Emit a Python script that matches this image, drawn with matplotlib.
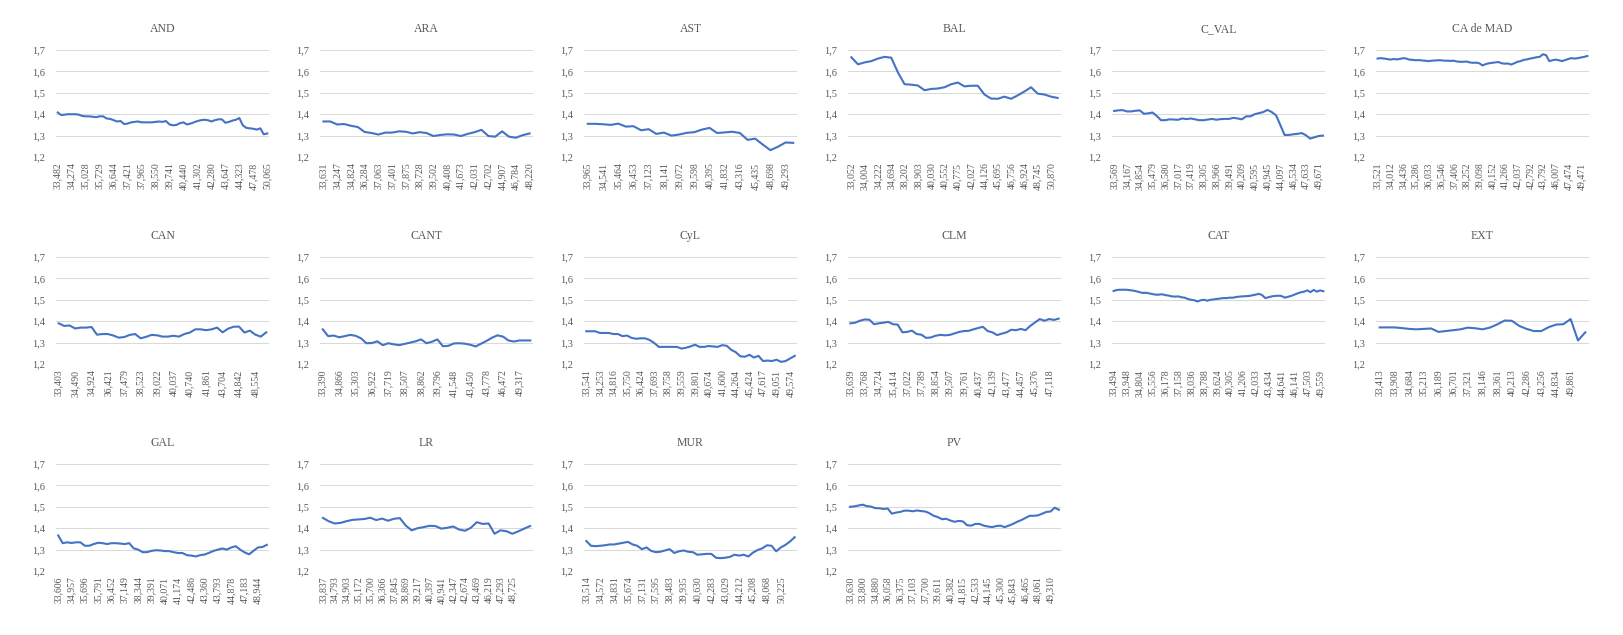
import matplotlib
matplotlib.use("Agg")
import matplotlib.pyplot as plt
from matplotlib.ticker import FuncFormatter

plt.rcParams['font.family'] = ['Liberation Serif', 'DejaVu Serif']

# ---- data: one series per region, x categories are the tick labels shown ----
and_labels = ["33,482", "34,274", "35,028", "35,729", "36,644", "37,421", "37,965", "38,550",
              "39,741", "40,440", "41,302", "42,280", "43,647", "44,323", "47,478", "50,065"]
and_vals = [1.408, 1.396, 1.398, 1.400, 1.400, 1.400, 1.398, 1.392, 1.390, 1.390, 1.388, 1.386,
            1.390, 1.390, 1.380, 1.378, 1.372, 1.366, 1.368, 1.354, 1.356, 1.362, 1.364, 1.366,
            1.362, 1.362, 1.362, 1.362, 1.364, 1.366, 1.364, 1.368, 1.352, 1.348, 1.350, 1.358,
            1.362, 1.352, 1.356, 1.362, 1.368, 1.372, 1.374, 1.372, 1.366, 1.372, 1.376, 1.376,
            1.360, 1.364, 1.370, 1.374, 1.382, 1.348, 1.336, 1.334, 1.332, 1.328, 1.334, 1.306,
            1.310]

ara_labels = ["33,631", "34,247", "34,824", "36,284", "37,063", "37,401", "37,875", "38,728",
              "39,502", "40,408", "41,673", "42,031", "42,702", "44,907", "46,784", "48,220"]
ara_vals = [1.366, 1.366, 1.352, 1.354, 1.346, 1.340, 1.317, 1.312, 1.305, 1.314, 1.314, 1.320,
            1.318, 1.310, 1.316, 1.312, 1.298, 1.303, 1.306, 1.305, 1.298, 1.308, 1.316, 1.327,
            1.298, 1.295, 1.320, 1.295, 1.290, 1.302, 1.310]

ast_labels = ["33,965", "34,541", "35,464", "36,453", "37,123", "38,141", "39,072", "39,598",
              "40,395", "41,832", "43,316", "45,435", "48,698", "49,293"]
ast_vals = [1.355, 1.355, 1.353, 1.350, 1.356, 1.342, 1.344, 1.325, 1.330, 1.308, 1.314, 1.300,
            1.305, 1.313, 1.316, 1.328, 1.336, 1.312, 1.315, 1.318, 1.312, 1.280, 1.286, 1.258,
            1.232, 1.248, 1.268, 1.266]

bal_labels = ["33,052", "34,004", "34,222", "34,694", "38,202", "38,903", "40,030", "40,552",
              "40,775", "42,027", "44,126", "45,695", "46,756", "46,924", "48,745", "50,870"]
bal_vals = [1.666, 1.633, 1.642, 1.648, 1.660, 1.668, 1.664, 1.595, 1.540, 1.538, 1.534, 1.512,
            1.518, 1.520, 1.526, 1.540, 1.548, 1.530, 1.533, 1.533, 1.492, 1.473, 1.472, 1.482,
            1.472, 1.488, 1.506, 1.526, 1.496, 1.492, 1.482, 1.476]

cval_labels = ["33,569", "34,167", "34,854", "35,479", "36,580", "37,017", "37,419", "38,305",
               "38,966", "39,491", "40,209", "40,595", "40,945", "44,097", "46,534", "47,633",
               "49,671"]
cval_vals = [1.415, 1.418, 1.419, 1.413, 1.413, 1.416, 1.418, 1.402, 1.404, 1.408, 1.392, 1.372,
             1.372, 1.376, 1.375, 1.374, 1.380, 1.377, 1.380, 1.376, 1.372, 1.372, 1.375, 1.378,
             1.374, 1.377, 1.378, 1.378, 1.383, 1.380, 1.376, 1.390, 1.390, 1.400, 1.405, 1.410,
             1.420, 1.410, 1.395, 1.350, 1.303, 1.303, 1.306, 1.308, 1.312, 1.302, 1.286, 1.292,
             1.298, 1.300]

mad_labels = ["33,521", "34,012", "34,436", "35,286", "36,033", "36,546", "37,406", "38,252",
              "39,098", "40,152", "41,266", "42,037", "42,792", "43,792", "46,007", "47,474",
              "49,471"]
mad_vals = [1.660, 1.662, 1.660, 1.658, 1.655, 1.658, 1.656, 1.658, 1.662, 1.660, 1.655, 1.654,
            1.652, 1.653, 1.651, 1.650, 1.648, 1.650, 1.651, 1.652, 1.652, 1.650, 1.650, 1.649,
            1.650, 1.646, 1.645, 1.645, 1.646, 1.642, 1.640, 1.641, 1.638, 1.628, 1.634, 1.638,
            1.640, 1.642, 1.644, 1.638, 1.636, 1.637, 1.632, 1.638, 1.645, 1.648, 1.654, 1.656,
            1.660, 1.663, 1.666, 1.668, 1.680, 1.676, 1.648, 1.652, 1.655, 1.652, 1.648, 1.653,
            1.658, 1.662, 1.660, 1.662, 1.665, 1.668, 1.672]

can_labels = ["33,403", "34,490", "34,924", "36,421", "37,479", "38,523", "39,022", "40,037",
              "40,740", "41,861", "43,704", "44,842", "48,554"]
can_vals = [1.390, 1.378, 1.380, 1.366, 1.370, 1.370, 1.373, 1.337, 1.340, 1.340, 1.333, 1.323,
            1.326, 1.336, 1.340, 1.320, 1.327, 1.336, 1.334, 1.328, 1.328, 1.332, 1.328, 1.340,
            1.347, 1.362, 1.362, 1.358, 1.362, 1.370, 1.348, 1.365, 1.374, 1.375, 1.347, 1.356,
            1.337, 1.328, 1.348]

cant_labels = ["33,390", "34,866", "35,303", "36,922", "37,719", "38,507", "38,862", "39,796",
               "41,548", "43,450", "43,778", "46,472", "49,317"]
cant_vals = [1.362, 1.330, 1.333, 1.325, 1.330, 1.336, 1.332, 1.320, 1.297, 1.298, 1.306, 1.288,
             1.297, 1.292, 1.288, 1.294, 1.300, 1.306, 1.315, 1.297, 1.304, 1.315, 1.283, 1.285,
             1.296, 1.297, 1.295, 1.290, 1.282, 1.295, 1.308, 1.323, 1.334, 1.328, 1.310, 1.305,
             1.310, 1.310, 1.310]

cyl_labels = ["33,541", "34,253", "34,816", "35,750", "36,424", "37,693", "38,758", "39,559",
              "39,801", "40,674", "41,600", "44,264", "45,424", "47,617", "49,051", "49,574"]
cyl_vals = [1.353, 1.353, 1.353, 1.345, 1.345, 1.345, 1.340, 1.340, 1.330, 1.333, 1.322, 1.318,
            1.320, 1.320, 1.312, 1.298, 1.280, 1.280, 1.280, 1.280, 1.280, 1.272, 1.276, 1.282,
            1.290, 1.280, 1.280, 1.284, 1.282, 1.280, 1.288, 1.285, 1.266, 1.255, 1.236, 1.234,
            1.243, 1.230, 1.238, 1.214, 1.216, 1.214, 1.220, 1.210, 1.214, 1.226, 1.238]

clm_labels = ["33,639", "33,768", "34,724", "35,414", "37,022", "37,789", "38,854", "39,507",
              "39,761", "40,437", "42,139", "43,477", "44,457", "45,376", "47,118"]
clm_vals = [1.390, 1.393, 1.402, 1.408, 1.407, 1.386, 1.390, 1.393, 1.397, 1.386, 1.384, 1.348,
            1.350, 1.356, 1.340, 1.337, 1.322, 1.324, 1.332, 1.336, 1.334, 1.336, 1.343, 1.350,
            1.354, 1.355, 1.362, 1.368, 1.374, 1.354, 1.348, 1.335, 1.342, 1.348, 1.360, 1.358,
            1.364, 1.358, 1.378, 1.394, 1.410, 1.402, 1.410, 1.406, 1.412]

cat_labels = ["33,494", "33,948", "34,804", "35,556", "36,178", "37,158", "38,036", "38,788",
              "39,624", "40,305", "41,206", "42,033", "43,434", "44,641", "46,141", "47,503",
              "49,559"]
cat_vals = [1.541, 1.546, 1.547, 1.547, 1.547, 1.545, 1.543, 1.540, 1.536, 1.532, 1.533, 1.530,
            1.527, 1.524, 1.524, 1.526, 1.522, 1.520, 1.516, 1.515, 1.516, 1.512, 1.510, 1.504,
            1.500, 1.498, 1.492, 1.498, 1.500, 1.496, 1.500, 1.502, 1.504, 1.506, 1.508, 1.508,
            1.510, 1.510, 1.513, 1.515, 1.516, 1.517, 1.518, 1.521, 1.524, 1.528, 1.522, 1.508,
            1.512, 1.516, 1.518, 1.519, 1.518, 1.510, 1.514, 1.518, 1.524, 1.530, 1.535, 1.538,
            1.544, 1.536, 1.546, 1.538, 1.544, 1.540]

ext_labels = ["33,413", "33,908", "34,684", "35,213", "36,189", "36,701", "37,321", "38,146",
              "38,361", "40,213", "42,286", "43,256", "44,834", "49,861"]
ext_vals = [1.371, 1.371, 1.371, 1.368, 1.364, 1.362, 1.364, 1.366, 1.350, 1.354, 1.358, 1.362,
            1.370, 1.367, 1.362, 1.370, 1.385, 1.403, 1.402, 1.378, 1.364, 1.354, 1.354, 1.372,
            1.384, 1.386, 1.410, 1.310, 1.348]

gal_labels = ["33,606", "34,957", "35,696", "35,791", "36,452", "37,149", "38,344", "39,391",
              "40,071", "41,174", "42,486", "43,360", "43,793", "44,878", "47,183", "48,944"]
gal_vals = [1.366, 1.330, 1.334, 1.331, 1.334, 1.334, 1.318, 1.318, 1.326, 1.332, 1.330, 1.326,
            1.330, 1.330, 1.328, 1.326, 1.330, 1.306, 1.300, 1.288, 1.288, 1.294, 1.297, 1.296,
            1.293, 1.293, 1.288, 1.284, 1.284, 1.274, 1.272, 1.268, 1.274, 1.277, 1.285, 1.294,
            1.300, 1.305, 1.300, 1.310, 1.316, 1.300, 1.287, 1.278, 1.294, 1.310, 1.312, 1.322]

lr_labels = ["33,837", "34,793", "34,903", "35,172", "35,700", "36,366", "37,845", "38,869",
             "39,217", "40,397", "40,941", "42,347", "42,674", "43,469", "46,219", "47,293",
             "48,725"]
lr_vals = [1.448, 1.432, 1.422, 1.425, 1.433, 1.439, 1.441, 1.443, 1.449, 1.438, 1.445, 1.435,
           1.444, 1.447, 1.412, 1.390, 1.400, 1.405, 1.411, 1.410, 1.398, 1.402, 1.408, 1.394,
           1.388, 1.402, 1.428, 1.420, 1.422, 1.374, 1.390, 1.386, 1.374, 1.385, 1.398, 1.410]

mur_labels = ["33,514", "34,572", "34,831", "35,674", "37,131", "37,595", "38,483", "39,935",
              "40,630", "42,283", "43,029", "44,212", "45,208", "48,068", "50,225"]
mur_vals = [1.340, 1.318, 1.316, 1.318, 1.320, 1.324, 1.324, 1.328, 1.332, 1.336, 1.324, 1.318,
            1.302, 1.310, 1.294, 1.288, 1.290, 1.296, 1.302, 1.284, 1.292, 1.296, 1.290, 1.288,
            1.276, 1.278, 1.280, 1.280, 1.262, 1.260, 1.262, 1.266, 1.276, 1.272, 1.276, 1.268,
            1.286, 1.298, 1.306, 1.320, 1.318, 1.292, 1.310, 1.322, 1.338, 1.358]

pv_labels = ["33,630", "33,800", "34,880", "36,058", "36,375", "37,103", "37,700", "39,611",
             "40,382", "41,815", "42,533", "44,145", "45,300", "45,843", "46,465", "48,061",
             "49,310"]
pv_vals = [1.500, 1.502, 1.506, 1.510, 1.503, 1.501, 1.494, 1.493, 1.490, 1.492, 1.468, 1.473,
           1.476, 1.482, 1.482, 1.479, 1.483, 1.480, 1.478, 1.470, 1.458, 1.452, 1.442, 1.444,
           1.436, 1.430, 1.434, 1.432, 1.414, 1.412, 1.420, 1.420, 1.412, 1.408, 1.405, 1.410,
           1.412, 1.405, 1.412, 1.420, 1.430, 1.438, 1.448, 1.458, 1.458, 1.460, 1.468, 1.476,
           1.478, 1.496, 1.486]

regions = ["AND", "ARA", "AST", "BAL", "C_VAL", "CA de MAD",
           "CAN", "CANT", "CyL", "CLM", "CAT", "EXT",
           "GAL", "LR", "MUR", "PV"]
series = [and_vals, ara_vals, ast_vals, bal_vals, cval_vals, mad_vals,
          can_vals, cant_vals, cyl_vals, clm_vals, cat_vals, ext_vals,
          gal_vals, lr_vals, mur_vals, pv_vals]
labels = [and_labels, ara_labels, ast_labels, bal_labels, cval_labels, mad_labels,
          can_labels, cant_labels, cyl_labels, clm_labels, cat_labels, ext_labels,
          gal_labels, lr_labels, mur_labels, pv_labels]
# how many categories between two shown tick labels (Excel label interval)
label_every = [4, 2, 2, 2, 3, 4,
               3, 3, 3, 3, 4, 2,
               3, 2, 3, 3]

yticks = [1.2, 1.3, 1.4, 1.5, 1.6, 1.7]

# ---- layout ----
W, H = 1624, 635
fig = plt.figure(figsize=(W / 100, H / 100), dpi=100)
fig.patch.set_facecolor("white")

txt = "#595959"
comma = FuncFormatter(lambda v, p: ("%.1f" % v).replace(".", ","))

for i, name in enumerate(regions):
    r, c = divmod(i, 6)
    left = 56 + 264 * c
    top = 50 + 207 * r
    ax = fig.add_axes([left / W, 1 - (top + 107) / H, 213 / W, 107 / H])

    vals = series[i]
    n = len(vals)
    ax.plot(range(n), vals, color="#4472C4", lw=1.5, solid_joinstyle="round")

    step = label_every[i]
    ax.set_xticks([k * step for k in range(len(labels[i]))])
    ax.set_xticklabels(labels[i], rotation=90, fontsize=7, color=txt)
    ax.set_xlim(-0.5, n - 0.5)

    ax.set_ylim(1.2, 1.7)
    ax.set_yticks(yticks)
    ax.yaxis.set_major_formatter(comma)
    ax.tick_params(axis="y", length=0, pad=8, labelsize=7.5, labelcolor=txt)
    ax.tick_params(axis="x", length=0, pad=4)
    ax.grid(axis="y", color="#d9d9d9", lw=0.75)
    ax.set_axisbelow(True)
    for s in ax.spines.values():
        s.set_visible(False)
    ax.set_title(name, fontsize=8.5, color=txt, pad=13)

fig.savefig("out.png", dpi=100)
